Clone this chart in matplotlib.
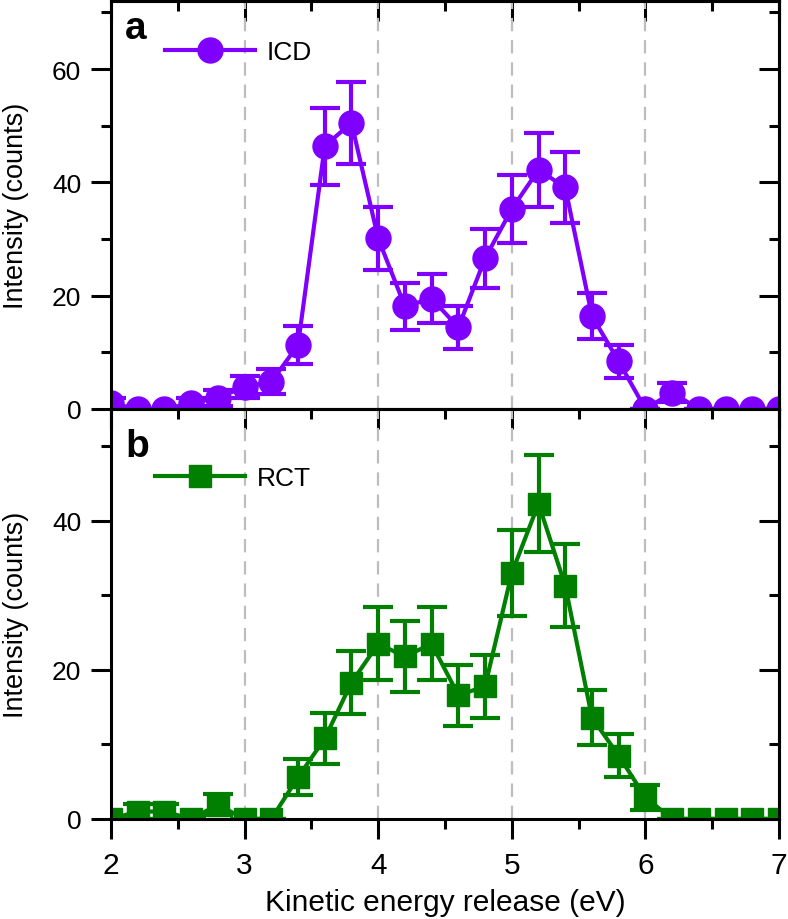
import matplotlib
matplotlib.use("Agg")
import matplotlib.pyplot as plt
from matplotlib import font_manager as fm
import numpy as np

names = {f.name for f in fm.fontManager.ttflist}
fam = [n for n in ["Liberation Sans Narrow", "Liberation Sans", "DejaVu Sans"] if n in names]
plt.rcParams['font.family'] = fam

kin = [2.0, 2.2, 2.4, 2.6, 2.8, 3.0, 3.2, 3.4, 3.6, 3.8, 4.0, 4.2, 4.4, 4.6, 4.8,
       5.0, 5.2, 5.4, 5.6, 5.8, 6.0, 6.2, 6.4, 6.6, 6.8, 7.0]
icd = [1, 0, 0, 1, 2, 3.9, 4.8, 11.3, 46.4, 50.5, 30.1, 18.1, 19.5, 14.4, 26.6,
       35.3, 42.2, 39.1, 16.4, 8.4, 0, 2.9, 0, 0, 0, 0]
icd_err = [1, 0, 0, 1, 1.4, 2.0, 2.2, 3.4, 6.8, 7.2, 5.5, 4.2, 4.4, 3.8, 5.2,
           6.0, 6.5, 6.3, 4.0, 2.9, 0, 1.7, 0, 0, 0, 0]
rct = [0, 1, 1, 0, 1.9, 0, 0, 5.6, 10.8, 18.3, 23.5, 21.8, 23.5, 16.6, 17.8,
       33.0, 42.3, 31.3, 13.6, 8.5, 2.9, 0, 0, 0, 0, 0]
rct_err = [0, 1, 1, 0, 1.4, 0, 0, 2.4, 3.4, 4.2, 4.9, 4.7, 4.9, 4.1, 4.2,
           5.8, 6.5, 5.6, 3.7, 2.9, 1.7, 0, 0, 0, 0, 0]

purple = "#8000FF"
green = "#007F00"

W, H = 788, 920
fig = plt.figure(figsize=(W/100, H/100), dpi=100)
left, right = 111/W, 779/W
axa = fig.add_axes([left, 1-410/H, right-left, (410-2)/H])
axb = fig.add_axes([left, 1-820/H, right-left, 410/H])

MAJ, MIN, TW = 14.4, 7.5, 2.2

def style(ax, ylim, yticks, ymin):
    ax.set_xlim(2, 7)
    ax.set_ylim(*ylim)
    ax.set_xticks([2, 3, 4, 5, 6, 7])
    ax.set_xticks(np.arange(2.5, 7, 1.0), minor=True)
    ax.set_yticks(yticks)
    ax.set_yticks(ymin, minor=True)
    for s in ax.spines.values():
        s.set_linewidth(TW)
    ax.tick_params(which='both', width=TW, direction='out', top=False, right=False)
    ax.tick_params(axis='y', labelsize=19, pad=7)
    ax.tick_params(axis='x', labelsize=21.5, pad=9)
    ax.tick_params(which='major', length=MAJ)
    ax.tick_params(which='minor', length=MIN)
    for gx in [3, 4, 5, 6]:
        ax.axvline(gx, color="#BDBDBD", lw=1.6, ls=(0, (6, 4)), zorder=0.5)
    ax.set_ylabel("Intensity (counts)", fontsize=19.5)
    ax.yaxis.set_label_coords(-0.123, 0.5)
    sx = ax.secondary_xaxis('top')
    sx.set_xticks([2, 3, 4, 5, 6, 7])
    sx.set_xticks(np.arange(2.5, 7, 1.0), minor=True)
    sx.tick_params(which='both', direction='in', width=TW, labeltop=False)
    sx.tick_params(which='major', length=MAJ)
    sx.tick_params(which='minor', length=MIN)
    sy = ax.secondary_yaxis('right')
    sy.set_yticks(yticks)
    sy.set_yticks(ymin, minor=True)
    sy.tick_params(which='both', direction='in', width=TW, labelright=False)
    sy.tick_params(which='major', length=MAJ)
    sy.tick_params(which='minor', length=MIN)
    for s in list(sx.spines.values()) + list(sy.spines.values()):
        s.set_linewidth(TW)

style(axa, (0, 72), [0, 20, 40, 60], [10, 30, 50, 70])
style(axb, (0, 55), [0, 20, 40], [10, 30, 50])
axa.tick_params(labelbottom=False)

axa.errorbar(kin, icd, yerr=icd_err, fmt='-o', color=purple, lw=3, ms=18,
             capsize=11, capthick=3, elinewidth=3, zorder=2)
axb.errorbar(kin, rct, yerr=rct_err, fmt='-s', color=green, lw=3, ms=16,
             capsize=11, capthick=3, elinewidth=3, zorder=2)

ha, = axa.plot([], [], '-o', color=purple, lw=3, ms=18, label="ICD")
hb, = axb.plot([], [], '-s', color=green, lw=3, ms=16, label="RCT")
axa.legend(handles=[ha], loc='center left', bbox_to_anchor=(0.081, 0.875),
           frameon=False, borderpad=0, borderaxespad=0, handlelength=3.4,
           handletextpad=0.45, fontsize=19)
axb.legend(handles=[hb], loc='center left', bbox_to_anchor=(0.066, 0.832),
           frameon=False, borderpad=0, borderaxespad=0, handlelength=3.4,
           handletextpad=0.45, fontsize=19)

axa.text(0.021, 0.909, "a", transform=axa.transAxes, fontsize=28,
         fontweight='bold', family=['Liberation Sans', 'DejaVu Sans'])
axb.text(0.021, 0.885, "b", transform=axb.transAxes, fontsize=28,
         fontweight='bold', family=['Liberation Sans', 'DejaVu Sans'])

axb.set_xlabel("Kinetic energy release (eV)", fontsize=21.5, labelpad=6)

fig.savefig("out.png", dpi=100)
